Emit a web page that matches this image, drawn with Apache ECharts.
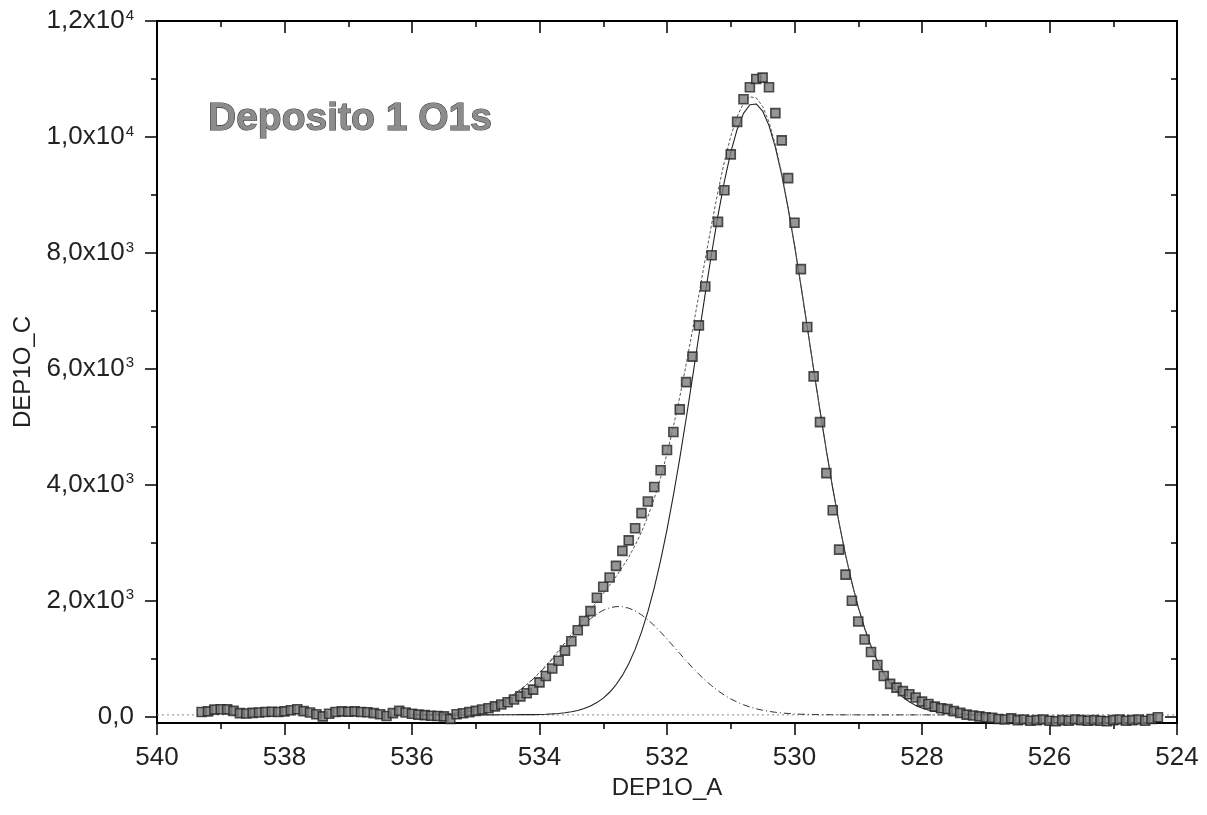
<!DOCTYPE html>
<html><head><meta charset="utf-8">
<script src="https://cdn.jsdelivr.net/npm/echarts@6/dist/echarts.min.js"></script>
<style>html,body{margin:0;padding:0;background:#fff}#c{width:1207px;height:815px}</style>
</head><body><div id="c"></div>
<script>
// Measured spectrum (binding energy, eV) and intensity
const energyEV = [539.3,539.2,539.1,539.0,538.9,538.8,538.7,538.6,538.5,538.4,538.3,538.2,538.1,538.0,537.9,537.8,537.7,537.6,537.5,537.4,537.3,537.2,537.1,537.0,536.9,536.8,536.7,536.6,536.5,536.4,536.3,536.2,536.1,536.0,535.9,535.8,535.7,535.6,535.5,535.4,535.3,535.2,535.1,535.0,534.9,534.8,534.7,534.6,534.5,534.4,534.3,534.2,534.1,534.0,533.9,533.8,533.7,533.6,533.5,533.4,533.3,533.2,533.1,533.0,532.9,532.8,532.7,532.6,532.5,532.4,532.3,532.2,532.1,532.0,531.9,531.8,531.7,531.6,531.5,531.4,531.3,531.2,531.1,531.0,530.9,530.8,530.7,530.6,530.5,530.4,530.3,530.2,530.1,530.0,529.9,529.8,529.7,529.6,529.5,529.4,529.3,529.2,529.1,529.0,528.9,528.8,528.7,528.6,528.5,528.4,528.3,528.2,528.1,528.0,527.9,527.8,527.7,527.6,527.5,527.4,527.3,527.2,527.1,527.0,526.9,526.8,526.7,526.6,526.5,526.4,526.3,526.2,526.1,526.0,525.9,525.8,525.7,525.6,525.5,525.4,525.3,525.2,525.1,525.0,524.9,524.8,524.7,524.6,524.5,524.4,524.3];
const counts = [80,90,120,128,125,100,60,55,65,70,80,85,80,90,110,128,95,70,40,5,50,80,90,85,90,80,75,60,40,10,60,100,70,50,35,25,15,10,5,-40,40,59,78,100,123,145,176,210,248,296,350,403,466,590,702,830,965,1138,1300,1490,1650,1820,2050,2240,2400,2600,2860,3040,3250,3510,3710,3960,4250,4600,4910,5300,5770,6210,6750,7420,7960,8534,9080,9700,10259,10650,10857,11000,11023,10857,10410,9940,9290,8520,7720,6720,5870,5080,4200,3560,2880,2450,2000,1640,1330,1115,890,700,565,500,440,385,330,259,219,173,145,130,95,65,35,20,5,-10,-20,-40,-50,-30,-60,-50,-70,-60,-50,-70,-80,-60,-70,-50,-60,-70,-60,-70,-80,-60,-50,-70,-60,-50,-70,-40,-10];

// Fitted curves
const fitEV = [536.0,535.9,535.8,535.7,535.6,535.5,535.4,535.3,535.2,535.1,535.0,534.9,534.8,534.7,534.6,534.5,534.4,534.3,534.2,534.1,534.0,533.9,533.8,533.7,533.6,533.5,533.4,533.3,533.2,533.1,533.0,532.9,532.8,532.7,532.6,532.5,532.4,532.3,532.2,532.1,532.0,531.9,531.8,531.7,531.6,531.5,531.4,531.3,531.2,531.1,531.0,530.9,530.8,530.7,530.6,530.5,530.4,530.3,530.2,530.1,530.0,529.9,529.8,529.7,529.6,529.5,529.4,529.3,529.2,529.1,529.0,528.9,528.8,528.7,528.6,528.5,528.4,528.3,528.2,528.1,528.0,527.9,527.8,527.7,527.6,527.5,527.4,527.3,527.2,527.1,527.0];
const fitEnvelope = [33,34,36,39,43,48,55,65,77,94,114,141,174,214,263,321,388,467,555,652,761,879,1006,1139,1277,1418,1559,1702,1842,1983,2124,2268,2417,2577,2754,2954,3184,3452,3763,4123,4535,5000,5514,6073,6664,7276,7893,8496,9062,9574,10009,10350,10582,10692,10674,10527,10255,9866,9373,8793,8145,7450,6728,5999,5282,4592,3941,3341,2796,2313,1888,1524,1215,959,748,578,443,338,256,194,147,113,88,70,57,48,42,38,35,33,32];
const fitPeak1 = [30,30,30,30,30,30,30,30,30,30,30,30,31,31,32,32,33,34,35,35,37,41,47,55,67,84,107,140,183,242,319,420,549,711,913,1160,1458,1811,2222,2694,3226,3815,4455,5138,5849,6574,7296,7994,8646,9233,9733,10129,10407,10556,10569,10447,10195,9821,9340,8769,8128,7438,6720,5993,5278,4589,3939,3339,2795,2312,1888,1524,1215,959,748,578,443,338,256,194,147,113,88,70,57,48,42,38,35,33,32];
const fitPeak2 = [33,34,36,39,43,48,55,65,77,94,114,141,173,213,261,319,385,463,550,647,754,868,989,1114,1240,1364,1482,1592,1689,1771,1835,1878,1898,1896,1871,1824,1756,1671,1571,1459,1339,1215,1089,965,845,732,627,532,446,371,306,251,205,166,135,110,90,75,63,54,47,42,38,36,34,33,32,32,31,31,30,30,30,30,30,30,30,30,30,30,30,30,30,30,30,30,30,30,30,30,30];
const baselineEV = [540, 524];
const baselineLevel = [30, 30];

// Axis ticks and labels
const yTickValues = [0, 2000, 4000, 6000, 8000, 10000, 12000];
const yTickMantissa = ['0,0', '2,0x10', '4,0x10', '6,0x10', '8,0x10', '1,0x10', '1,2x10'];
const yTickExponent = ['', '3', '3', '3', '3', '4', '4'];
const yMinorTickValues = [1000, 3000, 5000, 7000, 9000, 11000];

const FONT = "'Liberation Sans', Arial, Helvetica, sans-serif";
const zip = (xs, ys) => xs.map((x, i) => [x, ys[i]]);

const chart = echarts.init(document.getElementById('c'), null, {renderer: 'canvas'});

const xBase = {
  type: 'value', min: 524, max: 540, interval: 2, inverse: true,
  splitLine: {show: false},
  axisLine: {show: true, onZero: false, lineStyle: {color: '#000', width: 2}},
  axisTick: {show: true, length: 12, lineStyle: {color: '#000', width: 1.5}},
  minorTick: {show: true, splitNumber: 2, length: 6, lineStyle: {color: '#000', width: 1.5}}
};
const yBase = {
  type: 'value', min: -110, max: 12000,
  splitLine: {show: false},
  axisLine: {show: false, onZero: false, lineStyle: {color: '#000', width: 2}},
  axisLabel: {show: false}
};

chart.setOption({
  animation: false,
  backgroundColor: '#fff',
  title: {
    text: 'Deposito 1 O1s', left: 203, top: 95,
    textStyle: {fontFamily: FONT, fontSize: 39, fontWeight: 'bold', color: '#8c8c8c',
      textBorderColor: '#3a3a3a', textBorderWidth: 1.1}
  },
  grid: {left: 157, right: 30, top: 21, bottom: 92, containLabel: false},
  xAxis: [
    Object.assign({}, xBase, {
      position: 'bottom',
      axisLabel: {fontFamily: FONT, fontSize: 26, color: '#222', margin: 22},
      name: 'DEP1O_A', nameLocation: 'middle', nameGap: 35,
      nameTextStyle: {fontFamily: FONT, fontSize: 24, color: '#222'}
    }),
    Object.assign({}, xBase, {
      position: 'top',
      axisTick: {show: true, inside: true, length: 12, lineStyle: {color: '#000', width: 1.5}},
      axisLabel: {show: false}
    })
  ],
  yAxis: [
    Object.assign({}, yBase, {
      position: 'left',
      axisLine: {show: true, onZero: false, lineStyle: {color: '#000', width: 2}},
      axisTick: {show: true, customValues: yTickValues, length: 12, lineStyle: {color: '#000', width: 1.5}},
      axisLabel: {
        show: true, customValues: yTickValues, margin: 23,
        formatter: function (v) {
          const i = yTickValues.indexOf(v);
          if (i < 0) return '';
          return yTickExponent[i] ? '{m|' + yTickMantissa[i] + '}{e|' + yTickExponent[i] + '}' : '{m|' + yTickMantissa[i] + '}';
        },
        rich: {
          m: {fontFamily: FONT, fontSize: 26, color: '#222'},
          e: {fontFamily: FONT, fontSize: 15, color: '#222', verticalAlign: 'top', padding: [0, 0, 0, 1]}
        }
      },
      name: 'DEP1O_C', nameLocation: 'middle', nameGap: 122, nameRotate: 90,
      nameTextStyle: {fontFamily: FONT, fontSize: 24, color: '#222'}
    }),
    Object.assign({}, yBase, {
      position: 'right',
      axisLine: {show: true, onZero: false, lineStyle: {color: '#000', width: 2}},
      axisTick: {show: true, inside: true, customValues: yTickValues, length: 12, lineStyle: {color: '#000', width: 1.5}}
    }),
    Object.assign({}, yBase, {
      position: 'left',
      axisTick: {show: true, customValues: yMinorTickValues, length: 6, lineStyle: {color: '#000', width: 1.5}}
    }),
    Object.assign({}, yBase, {
      position: 'right',
      axisTick: {show: true, inside: true, customValues: yMinorTickValues, length: 6, lineStyle: {color: '#000', width: 1.5}}
    })
  ],
  series: [
    {type: 'line', name: 'baseline', data: zip(baselineEV, baselineLevel), showSymbol: false, symbol: 'none',
      lineStyle: {color: '#888', width: 1, type: [2, 3]}, z: 2},
    {type: 'line', name: 'peak2', data: zip(fitEV, fitPeak2), showSymbol: false, symbol: 'none',
      lineStyle: {color: '#333', width: 1, type: [7, 3, 1, 3]}, z: 3},
    {type: 'line', name: 'peak1', data: zip(fitEV, fitPeak1), showSymbol: false, symbol: 'none',
      lineStyle: {color: '#222', width: 1.1}, z: 3},
    {type: 'line', name: 'envelope', data: zip(fitEV, fitEnvelope), showSymbol: false, symbol: 'none',
      lineStyle: {color: '#555', width: 1, type: [3, 2]}, z: 3},
    {type: 'scatter', name: 'data', data: zip(energyEV, counts), symbol: 'rect', symbolSize: 9,
      itemStyle: {color: '#7c7c7c', borderColor: '#262626', borderWidth: 1.6}, z: 4}
  ]
});
</script>
</body></html>
